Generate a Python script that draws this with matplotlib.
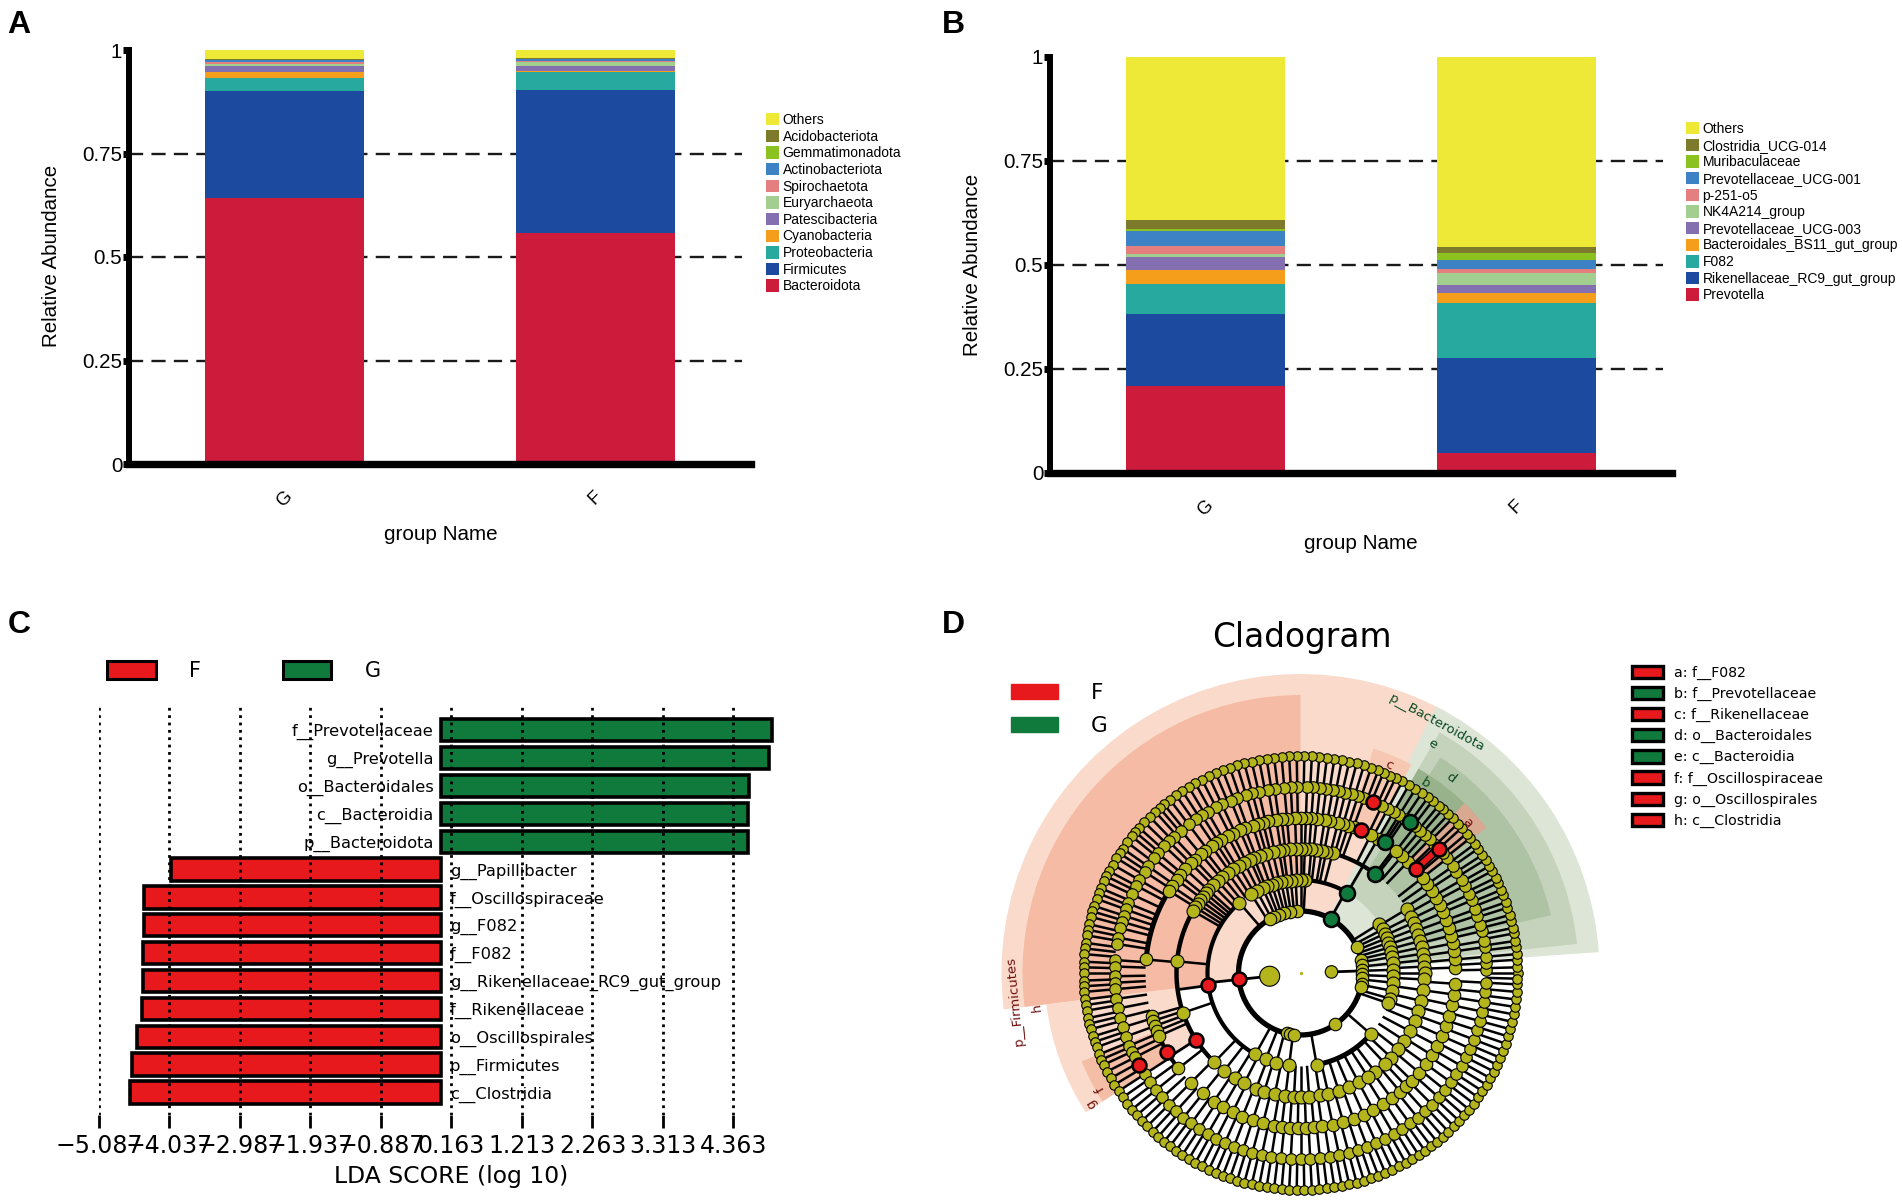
import numpy as np
import matplotlib
matplotlib.use("Agg")
import matplotlib.pyplot as plt
from matplotlib.patches import Patch

W, H = 1902, 1201

# panel A, bottom to top
taxa_a = ["Bacteroidota", "Firmicutes", "Proteobacteria", "Cyanobacteria", "Patescibacteria",
          "Euryarchaeota", "Spirochaetota", "Actinobacteriota", "Gemmatimonadota", "Acidobacteriota", "Others"]
g_a = [0.642, 0.258, 0.033, 0.015, 0.014, 0.003, 0.006, 0.004, 0.001, 0.002, 0.022]
f_a = [0.557, 0.347, 0.043, 0.002, 0.013, 0.008, 0.003, 0.005, 0.001, 0.002, 0.019]

# panel B, bottom to top
taxa_b = ["Prevotella", "Rikenellaceae_RC9_gut_group", "F082", "Bacteroidales_BS11_gut_group",
          "Prevotellaceae_UCG-003", "NK4A214_group", "p-251-o5", "Prevotellaceae_UCG-001",
          "Muribaculaceae", "Clostridia_UCG-014", "Others"]
g_b = [0.210, 0.172, 0.073, 0.033, 0.031, 0.008, 0.019, 0.035, 0.005, 0.022, 0.392]
f_b = [0.047, 0.230, 0.131, 0.024, 0.021, 0.028, 0.009, 0.021, 0.019, 0.014, 0.456]

stack_colors = ["#CD1B3C", "#1C4A9E", "#27A9A0", "#F59E1B", "#8470B0", "#A2CF8F",
                "#E57E7E", "#3C82C4", "#8CC21F", "#7D7A2B", "#EEE937"]
groups = ["G", "F"]
y_ticks = [0, 0.25, 0.5, 0.75, 1]
y_labels = ["0", "0.25", "0.5", "0.75", "1"]

# panel C
lda_names = ["f__Prevotellaceae", "g__Prevotella", "o__Bacteroidales", "c__Bacteroidia", "p__Bacteroidota",
             "g__Papillibacter", "f__Oscillospiraceae", "g__F082", "f__F082", "g__Rikenellaceae_RC9_gut_group",
             "f__Rikenellaceae", "o__Oscillospirales", "p__Firmicutes", "c__Clostridia"]
lda_scores = [4.94, 4.89, 4.60, 4.585, 4.585, -4.02, -4.42, -4.42, -4.43, -4.43, -4.45, -4.52, -4.59, -4.62]
lda_ticks = [-5.087, -4.037, -2.987, -1.937, -0.887, 0.163, 1.213, 2.263, 3.313, 4.363]

# panel D, node angles in degrees on each ring
ring_217 = [0, 1.5, 3.5, 5, 7, 8.5, 10.5, 12, 14, 15.5, 17.5, 19, 21, 22.5, 24.5, 26, 28, 29.5, 31.5, 33, 35, 36.5,
            38.5, 40, 42, 43.5, 45.5, 47, 49, 50.5, 52.5, 54, 56, 58, 60, 62, 64, 65.5, 67.5, 69, 71, 73, 75, 77, 79,
            81, 83, 85, 87, 89, 91, 93, 95, 97, 99, 101, 103, 105, 107, 109, 111, 113, 115, 117, 119, 121, 123, 125,
            127, 129, 130.5, 132, 134, 136, 138, 139.5, 141, 143, 145, 146.5, 148, 150, 152, 153.5, 155, 157, 158.5,
            160, 162, 163.5, 165, 167, 168.5, 170, 172, 173.5, 175, 177, 178.5, 180, 182, 183.5, 185, 187, 188.5, 190,
            192, 193.5, 195, 197, 198.5, 200, 202, 203.5, 205, 207, 209, 211, 213, 215, 217, 219, 221, 223, 225, 227,
            229, 231, 233, 235, 237, 239, 241, 243, 245, 247, 249, 251, 253, 255, 257, 259, 261, 263, 265, 267, 269,
            271, 273, 275, 277, 279, 281, 283, 285, 287, 289, 291, 293, 295, 297, 299, 301, 303, 305, 307, 309, 311,
            313, 315, 317, 319, 321, 323, 325, 327, 329, 331, 333, 335, 337, 339, 341, 343, 345, 347, 349, 351, 353,
            355, 357, 358.5]
ring_186 = [1, 3, 5, 8, 10, 13, 15, 18, 20, 23, 25, 28, 30, 33, 35, 38, 40, 44, 46, 48, 50, 52, 56, 58, 60, 62, 64, 70,
            72, 74, 76, 78, 80, 82, 84, 86, 88, 91, 93, 95, 98, 100, 103, 105, 107, 110, 112, 115, 117, 120, 122, 124,
            127, 130, 133, 135, 137, 140, 142, 145, 147, 150, 152, 155, 158, 160, 162, 164, 166, 169, 171, 176, 178,
            181, 183, 185, 188, 191, 194, 197, 200, 203, 205, 207, 213, 216, 219, 222, 225, 228, 231, 234, 237, 240,
            243, 246, 249, 252, 255, 258, 261, 264, 267, 270, 273, 276, 279, 282, 285, 288, 291, 294, 297, 300, 303,
            306, 309, 312, 315, 318, 321, 324, 327, 330, 333, 336, 339, 342, 345, 348, 351, 354, 357]
ring_155 = [2, 5, 8, 11, 14, 17, 20, 23, 26, 29, 32, 35, 38, 46, 49, 52, 60, 63, 70, 72, 74, 76, 79, 81, 84, 86, 88,
            90, 92, 95, 97, 99, 102, 104, 106, 108, 111, 113, 116, 118, 121, 123, 125, 128, 130, 133, 135, 138, 141,
            143, 146, 148, 175, 196, 198, 200, 202, 204, 218, 225, 231, 236, 240, 244, 248, 252, 256, 260, 263, 266,
            269, 272, 275, 278, 282, 286, 290, 294, 298, 302, 306, 310, 313, 316, 320, 324, 328, 332, 336, 340, 344,
            348, 352, 356]
ring_124 = [31, 27, 24, 21, 18, 15, 12, 9, 6, 3, 0, 357, 352, 347, 342, 337, 332, 327, 322, 317, 313, 307, 75, 78, 80,
            83, 85, 88, 90, 92, 95, 98, 100, 103, 106, 109, 112, 114, 117, 120, 123, 126, 129, 132, 135, 138, 140, 142,
            144, 146, 148, 150, 174.6, 198.7, 226, 232, 238, 243, 249, 253, 258, 263, 267, 270, 274, 279, 283, 288,
            293, 298, 303]
ring_93 = [87, 90, 93, 96, 99, 102, 105, 108, 111, 114, 118, 122, 131, 32, 28, 25, 22, 19, 16, 13, 10, 6, 2, 358, 354,
           349, 344, 341, 241, 248, 255, 263, 280, 319]
ring_62 = [25, 12, 7, 3, 359, 355, 350, 347, 304, 257, 260, 264, 93, 100, 105, 110, 115, 119]

# highlighted nodes: ring radius and angle
red_r = [62, 93, 124, 155, 186, 155, 186, 155, 186]
red_a = [186, 187.7, 212.6, 210.6, 209.5, 67, 67, 42, 42]
green_r = [62, 93, 124, 156, 187]
green_a = [61, 59.7, 53, 57, 54]

# arcs: radius, start, end, line width
arc_r = [62, 93, 93, 93, 124, 124, 124, 155, 155, 155, 186]
arc_a0 = [0, 131, 60, 280, 148, 53, 307, 150, 42, 205, 54]
arc_a1 = [360, 241, 87, 319, 226, 73, 315, 175, 67, 220, 67]
arc_lw = [3.8, 3.0, 3.0, 3.6, 3.2, 3.0, 3.6, 3.6, 3.0, 3.0, 3.0]

# shaded clades: inner radius, outer radius, start, end, colour
clade_in = [62, 124, 93, 155, 62, 93, 124, 155, 155, 155]
clade_out = [299, 256, 278, 236, 299, 278, 257, 236, 236, 236]
clade_a0 = [60, 187, 90, 202, 4, 6, 13, 43, 62, 38]
clade_a1 = [187, 213, 187, 213, 63, 60, 57, 60, 72, 46]
clade_col = ["#FADBCB", "#FADBCB", "#F6BBA4", "#F4BDA6", "#DCE5D6", "#C5D3BC", "#AEC3A4", "#98B28C", "#F6C8B2", "#D9A890"]

legend_d = ["a: f__F082", "b: f__Prevotellaceae", "c: f__Rikenellaceae", "d: o__Bacteroidales",
            "e: c__Bacteroidia", "f: f__Oscillospiraceae", "g: o__Oscillospirales", "h: c__Clostridia"]
legend_d_col = ["F", "G", "F", "G", "G", "F", "F", "F"]

clade_labels = ["e", "d", "b", "c", "a", "h", "g", "f"]
clade_label_r = [264, 246, 227, 226, 225, 266, 247, 231]
clade_label_a = [60, 52.5, 56.8, 67, 42, 187.3, 212, 210]

RED = "#E8191C"
GREEN = "#107A3C"
OLIVE = "#B4B41C"
ARIAL = "Liberation Sans"

fig = plt.figure(figsize=(W / 100, H / 100), dpi=100)


def px_axes(left, top, right, bottom, **kw):
    return fig.add_axes([left / W, 1 - bottom / H, (right - left) / W, (bottom - top) / H], **kw)


def px_text(x, y, s, **kw):
    kw.setdefault("ha", "center")
    kw.setdefault("va", "center")
    return fig.text(x / W, 1 - y / H, s, **kw)


def stacked_panel(box, taxa, g_vals, f_vals, legend_xy):
    ax = px_axes(*box)
    ax.set_xlim(-0.5, 1.5)
    ax.set_ylim(0, 1)
    bottom = np.zeros(2)
    for name, a, b, c in zip(taxa, g_vals, f_vals, stack_colors):
        ax.bar([0, 1], [a, b], width=0.511, bottom=bottom, color=c, label=name, zorder=3)
        bottom += np.array([a, b])
    for y in y_ticks[1:-1]:
        ax.axhline(y, color="#1a1a1a", lw=1.7, dashes=(6, 3.5), zorder=1, xmax=0.985)
    for s in ["top", "right"]:
        ax.spines[s].set_visible(False)
    ax.spines["left"].set_linewidth(4.3)
    ax.spines["bottom"].set_linewidth(5.3)
    ax.spines["left"].set_zorder(5)
    ax.spines["bottom"].set_zorder(5)
    ax.set_yticks(y_ticks, y_labels, fontfamily=ARIAL, fontsize=14.8)
    ax.tick_params(axis="y", length=4.3, width=5, pad=0.5)
    ax.set_xticks([0, 1], groups, fontfamily=ARIAL, fontsize=13.5, rotation=45)
    ax.tick_params(axis="x", length=0, pad=17)
    handles, labels = ax.get_legend_handles_labels()
    ax.legend(handles[::-1], labels[::-1], loc="upper left", bbox_to_anchor=(legend_xy[0] / W, 1 - legend_xy[1] / H),
              bbox_transform=fig.transFigure, frameon=False, borderpad=0, borderaxespad=0,
              prop={"family": ARIAL, "size": 10.0}, handlelength=0.94, handleheight=1.0,
              labelspacing=0.19, handletextpad=0.25)
    return ax


stacked_panel((129, 50, 751, 464), taxa_a, g_a, f_a, (766, 113))
stacked_panel((1050, 57, 1672, 473), taxa_b, g_b, f_b, (1686, 122))

px_text(52, 256, "Relative Abundance", rotation=90, fontfamily=ARIAL, fontsize=14.8)
px_text(972, 265, "Relative Abundance", rotation=90, fontfamily=ARIAL, fontsize=14.8)
px_text(441, 534, "group Name", fontfamily=ARIAL, fontsize=14.9)
px_text(1361, 543, "group Name", fontfamily=ARIAL, fontsize=14.9)

for x, y, s in zip([19, 953, 19, 953], [25, 25, 625, 625], ["A", "B", "C", "D"]):
    px_text(x, y, s, fontfamily=ARIAL, fontweight="bold", fontsize=23)

# panel C
ax_c = px_axes(99, 703, 789, 1115)
ax_c.set_xlim(-5.087, -5.087 + 690 / 67.14)
ax_c.set_ylim(13 + (1115 - 1092.5) / 27.86, -(730.3 - 703) / 27.86)
ypos = np.arange(len(lda_names))
bar_cols = [GREEN if v > 0 else RED for v in lda_scores]
ax_c.barh(ypos, lda_scores, height=0.8, color=bar_cols, edgecolor="black", linewidth=2.6, zorder=2)
ax_c.grid(axis="x", color="black", linestyle=":", linewidth=2.0, zorder=3)
ax_c.set_axisbelow(False)
for s in ax_c.spines.values():
    s.set_visible(False)
ax_c.set_yticks([])
ax_c.set_xticks(lda_ticks, ["\u2212%.3f" % abs(v) if v < 0 else "%.3f" % v for v in lda_ticks], fontsize=17)
ax_c.tick_params(axis="x", length=9, width=2, pad=4.5)
for y, name, v in zip(ypos, lda_names, lda_scores):
    if v > 0:
        ax_c.text(-0.1, y + 0.07, name, ha="right", va="center", fontsize=11.7, zorder=4)
    else:
        ax_c.text(0.14, y + 0.07, name, ha="left", va="center", fontsize=11.7, zorder=4)
px_text(451.5, 1176, "LDA SCORE (log 10)", fontsize=16.9)
ax_c.legend(handles=[Patch(facecolor=RED, edgecolor="black", linewidth=2.2, label="F"),
                     Patch(facecolor=GREEN, edgecolor="black", linewidth=2.2, label="G")],
            loc="upper left", bbox_to_anchor=(107 / W, 1 - 661 / H), bbox_transform=fig.transFigure,
            ncol=2, frameon=False, borderpad=0, borderaxespad=0, fontsize=15,
            handlelength=2.35, handleheight=0.96, handletextpad=1.6, columnspacing=3.9)

# panel D
cx, cy, half = 1300.5, 973, 310
ax_d = px_axes(cx - half, cy - half, cx + half, cy + half, projection="polar")
ax_d.set_rlim(0, half)
ax_d.axis("off")

for r0, r1, a0, a1, col in zip(clade_in, clade_out, clade_a0, clade_a1, clade_col):
    ax_d.bar(np.radians((a0 + a1) / 2), r1 - r0, width=np.radians(a1 - a0), bottom=r0, color=col, linewidth=0, zorder=1)

rings = {217: (ring_217, 9.5), 186: (ring_186, 11.5), 155: (ring_155, 12.5), 124: (ring_124, 13), 93: (ring_93, 13),
         62: (ring_62, 12.5)}
for r, (angles, dia) in rings.items():
    th = np.radians(angles)
    if r > 62:
        ax_d.vlines(th, r - 31, r, colors="black", lw=1.8, zorder=2)
    ax_d.scatter(th, np.full(len(th), r), s=(dia * 0.72) ** 2, color=OLIVE, edgecolors="black", linewidths=0.8, zorder=4)

for r, a0, a1, lw in zip(arc_r, arc_a0, arc_a1, arc_lw):
    ax_d.plot(np.radians(np.linspace(a0, a1, 80)), np.full(80, r), color="black", lw=lw, solid_capstyle="butt", zorder=3)

# stems from the two inner nodes and the highlighted ones
ax_d.vlines(np.radians([186, 2]), 31, 62, colors="black", lw=2, zorder=3)
ax_d.vlines(np.radians(red_a[:3] + green_a[:4]), np.array(red_r[:3] + green_r[:4]), np.array(red_r[:3] + green_r[:4]) + 31,
            colors="black", lw=2, zorder=3)
ax_d.vlines(np.radians([42]), 155, 186, colors="black", lw=6.5, zorder=3)
ax_d.vlines(np.radians([42]), 155, 186, colors=RED, lw=4, zorder=3)
ax_d.scatter(np.radians([186, 2]), [31, 31], s=[(20 * 0.72) ** 2, (12.5 * 0.72) ** 2], color=OLIVE, edgecolors="black",
             linewidths=0.8, zorder=4)
ax_d.scatter(0, 0, s=2, color=OLIVE, zorder=4)
ax_d.scatter(np.radians(red_a), red_r, s=(14 * 0.72) ** 2, color=RED, edgecolors="black", linewidths=1.8, zorder=5)
ax_d.scatter(np.radians(green_a), green_r, s=(15 * 0.72) ** 2, color=GREEN, edgecolors="black", linewidths=1.8, zorder=5)

DARK_RED = "#6E1010"
DARK_GREEN = "#0C4A24"
ax_d.text(np.radians(61.4), 285, "p__Bacteroidota", rotation=-28.6, rotation_mode="anchor", ha="center", va="center",
          fontsize=9.5, color=DARK_GREEN, zorder=6)
ax_d.text(np.radians(185.6), 287, "p__Firmicutes", rotation=95.6, rotation_mode="anchor", ha="center", va="center",
          fontsize=9.5, color=DARK_RED, zorder=6)
for s, r, a in zip(clade_labels, clade_label_r, clade_label_a):
    col = DARK_GREEN if s in "edb" else DARK_RED
    ax_d.text(np.radians(a), r, s, rotation=a - 90, rotation_mode="anchor", ha="center", va="center",
              fontsize=9.5, color=col, zorder=6)

px_text(1301.5, 638, "Cladogram", fontsize=23.6)
leg_left = ax_d.legend(handles=[Patch(color=RED, label="F"), Patch(color=GREEN, label="G")],
                       loc="upper left", bbox_to_anchor=(1010.5 / W, 1 - 683 / H), bbox_transform=fig.transFigure,
                       frameon=False, borderpad=0, borderaxespad=0, fontsize=15.5,
                       handlelength=2.2, handleheight=0.75, handletextpad=1.55, labelspacing=0.6)
ax_d.add_artist(leg_left)
face = {"F": RED, "G": GREEN}
ax_d.legend(handles=[Patch(facecolor=face[c], edgecolor="black", linewidth=2.4, label=s)
                     for s, c in zip(legend_d, legend_d_col)],
            loc="upper left", bbox_to_anchor=(1632 / W, 1 - 666 / H), bbox_transform=fig.transFigure,
            frameon=False, borderpad=0, borderaxespad=0, fontsize=10.2,
            handlelength=2.2, handleheight=0.95, handletextpad=0.75, labelspacing=0.49)

fig.savefig("out.png", dpi=100, facecolor="white")
